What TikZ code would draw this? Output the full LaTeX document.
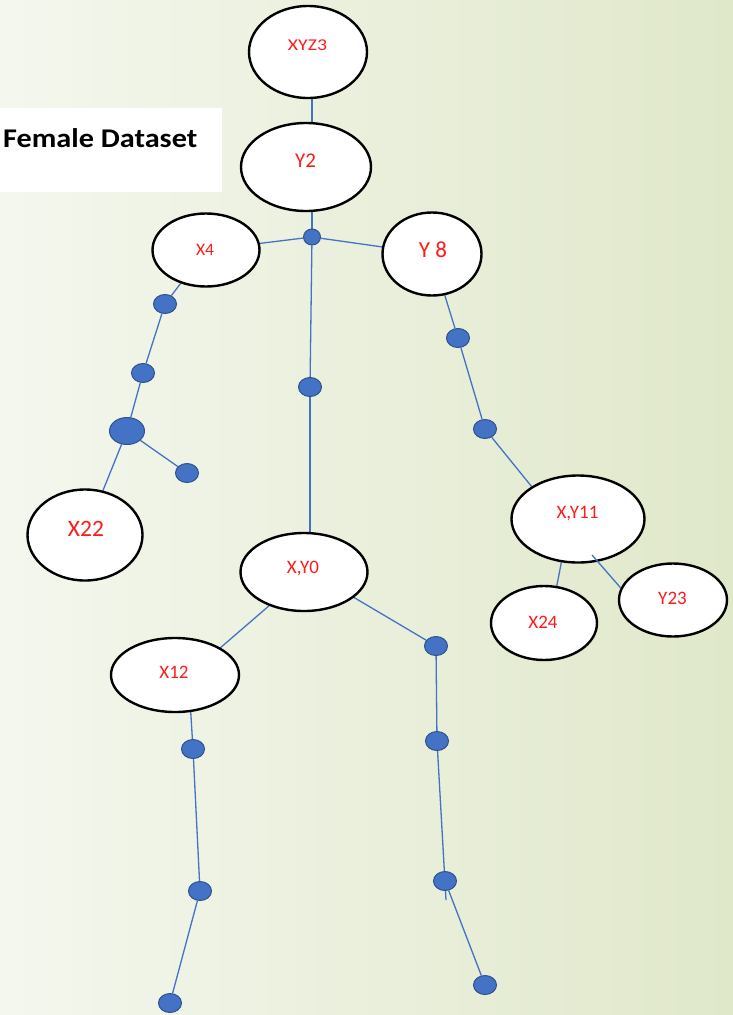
\documentclass[tikz,border=0pt]{standalone}
\usepackage{fontspec}
\setmainfont{Carlito}
\usetikzlibrary{shapes.geometric}
\pgfdeclarelayer{bg}
\pgfdeclarelayer{edges}
\pgfsetlayers{bg,edges,main}
\definecolor{limbblue}{HTML}{4472C4}
\definecolor{dotedge}{HTML}{2F528F}
\definecolor{paleleft}{HTML}{F4F7EE}
\definecolor{paleright}{HTML}{E0E8CA}
\definecolor{tagred}{HTML}{FF1A1A}
\begin{document}
\begin{tikzpicture}[x=1pt,y=-1pt,
  oval/.style={ellipse, draw=black, line width=2.4pt, fill=white, inner sep=0pt},
  joint/.style={ellipse, draw=dotedge, line width=1pt, fill=limbblue,
                minimum width=23pt, minimum height=19pt, inner sep=0pt},
  tag/.style={text=tagred, anchor=base, inner sep=0pt,
              font=\fontsize{19}{21}\selectfont},
  bone/.style={draw=limbblue, line width=1.3pt}]

\useasboundingbox (0,0) rectangle (733,1015);
\begin{pgfonlayer}{bg}
  \fill[left color=paleleft, right color=paleright] (0,0) rectangle (733,1015);
\end{pgfonlayer}

% title panel
\node (titlebox) [fill=white, minimum width=222pt, minimum height=84pt,
                  anchor=north west, inner sep=0pt] at (0,108) {};
\node (title) [anchor=base west, inner sep=0pt,
               font=\fontsize{27}{30}\selectfont\bfseries] at (3,147)
  {\scalebox{1.12}[1]{Female Dataset}};

% labelled body parts
\node (xyz3) [oval, minimum width=118pt, minimum height=92pt] at (308,52) {};
\node (y2)   [oval, minimum width=130pt, minimum height=88pt] at (306,167) {};
\node (x4)   [oval, minimum width=107pt, minimum height=73pt] at (206,250) {};
\node (y8)   [oval, minimum width=99pt,  minimum height=83pt] at (432,254) {};
\node (xy11) [oval, minimum width=133pt, minimum height=87pt] at (578,519) {};
\node (x24)  [oval, minimum width=106pt, minimum height=74pt] at (544,623) {};
\node (y23)  [oval, minimum width=108pt, minimum height=73pt] at (673,600) {};
\node (x22)  [oval, minimum width=115pt, minimum height=91pt] at (85,535) {};
\node (xy0)  [oval, minimum width=127pt, minimum height=78pt] at (304,572) {};
\node (x12)  [oval, minimum width=128pt, minimum height=74pt] at (175,675) {};

% labels
\node (xyz3t) [tag, font=\fontsize{16.5}{18}\selectfont] at (307.5,50) {\scalebox{1.2}[1]{XYZ3}};
\node (y2t)   [tag, font=\fontsize{21}{23}\selectfont] at (305.5,167) {Y2};
\node (x4t)   [tag, font=\fontsize{17.5}{19}\selectfont] at (205,255) {X4};
\node (y8t)   [tag, font=\fontsize{23}{25}\selectfont] at (433,257) {Y 8};
\node (x22t)  [tag, font=\fontsize{23.5}{25}\selectfont] at (86,536) {X22};
\node (xy0t)  [tag] at (303,573) {X,Y0};
\node (x12t)  [tag] at (174,678) {X12};
\node (xy11t) [tag] at (577.5,518) {X,Y11};
\node (y23t)  [tag] at (672.5,604) {Y23};
\node (x24t)  [tag] at (543,628) {X24};

% joints
\node (j)  [joint, minimum width=17pt, minimum height=16pt] at (312,237) {};
\node (a)  [joint] at (165,304) {};
\node (b)  [joint] at (143,373) {};
\node (c)  [joint, minimum width=35pt, minimum height=27pt] at (127,431) {};
\node (dd) [joint] at (187,473) {};
\node (e)  [joint] at (310,387) {};
\node (d2) [joint] at (458,338) {};
\node (d3) [joint] at (485,429) {};
\node (f)  [joint] at (193,749) {};
\node (g)  [joint] at (200,891) {};
\node (h)  [joint] at (170,1003) {};
\node (i)  [joint] at (436,646) {};
\node (j2) [joint] at (437,741) {};
\node (k)  [joint] at (445,881) {};
\node (l)  [joint] at (485,985) {};
\coordinate (kend) at (446,900);
\coordinate (y23s) at (592,555);

% bones
\begin{pgfonlayer}{edges}
  \draw[bone] (xyz3.south -| j.north) -- (y2.north -| j.north);
  \draw[bone] (y2.south -| j.north) -- (j.north);
  \draw[bone] (j) -- (e);
  \draw[bone] (e) -- (e |- xy0.north);
  \draw[bone] (x4) -- (j);
  \draw[bone] (j) -- (y8);
  % right arm
  \draw[bone] (y8) -- (d2);
  \draw[bone] (d2) -- (d3);
  \draw[bone] (d3) -- (xy11.145);
  \draw[bone] (xy11.249) -- (x24.71);
  % left arm
  \draw[bone] (x4) -- (a);
  \draw[bone] (a) -- (b);
  \draw[bone] (b) -- (c);
  \draw[bone] (c) -- (dd);
  \draw[bone] (c) -- (x22);
  % left leg
  \draw[bone] (xy0.224) -- (x12.31);
  \draw[bone] (x12.293) -- (f);
  \draw[bone] (f) -- (g);
  \draw[bone] (g) -- (h);
  % right leg
  \draw[bone] (xy0.333) -- (i);
  \draw[bone] (i) -- (j2);
  \draw[bone] (j2) -- (kend);
  \draw[bone] (k) -- (l);
\end{pgfonlayer}
\draw[bone] (y23s) -- (y23.167);

\end{tikzpicture}
\end{document}
